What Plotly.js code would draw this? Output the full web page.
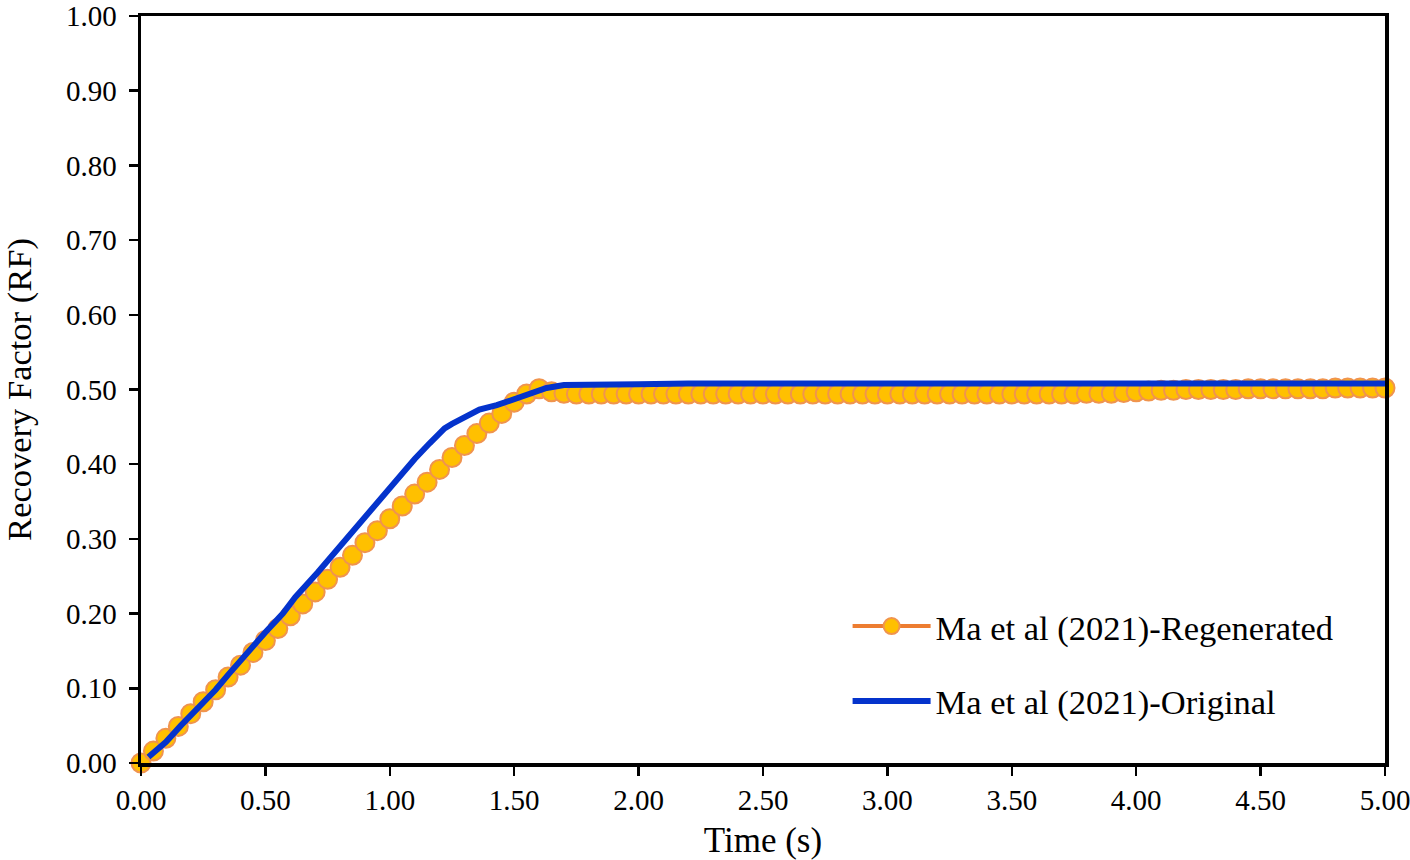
<!DOCTYPE html>
<html>
<head>
<meta charset="utf-8">
<script src="https://cdn.plot.ly/plotly-3.0.1.min.js"></script>
<style>html,body{margin:0;padding:0;background:#fff;}#chart{width:1410px;height:860px;}</style>
</head>
<body>
<div id="chart"></div>
<script>
// Regenerated series (every 0.05 s)
const regenTime = [
  0.00,0.05,0.10,0.15,0.20,0.25,0.30,0.35,0.40,0.45,
  0.50,0.55,0.60,0.65,0.70,0.75,0.80,0.85,0.90,0.95,
  1.00,1.05,1.10,1.15,1.20,1.25,1.30,1.35,1.40,1.45,
  1.50,1.55,1.60,1.65,1.70,1.75,1.80,1.85,1.90,1.95,
  2.00,2.05,2.10,2.15,2.20,2.25,2.30,2.35,2.40,2.45,
  2.50,2.55,2.60,2.65,2.70,2.75,2.80,2.85,2.90,2.95,
  3.00,3.05,3.10,3.15,3.20,3.25,3.30,3.35,3.40,3.45,
  3.50,3.55,3.60,3.65,3.70,3.75,3.80,3.85,3.90,3.95,
  4.00,4.05,4.10,4.15,4.20,4.25,4.30,4.35,4.40,4.45,
  4.50,4.55,4.60,4.65,4.70,4.75,4.80,4.85,4.90,4.95,
  5.00
];
const regenRF = [
  0.000,0.016,0.033,0.049,0.066,0.082,0.098,0.115,0.131,0.148,
  0.164,0.180,0.197,0.213,0.229,0.246,0.262,0.278,0.295,0.311,
  0.327,0.344,0.360,0.376,0.393,0.409,0.425,0.441,0.455,0.468,
  0.483,0.494,0.501,0.497,0.495,0.494,0.494,0.494,0.494,0.494,
  0.494,0.494,0.494,0.494,0.494,0.494,0.494,0.494,0.494,0.494,
  0.494,0.494,0.494,0.494,0.494,0.494,0.494,0.494,0.494,0.494,
  0.494,0.494,0.494,0.494,0.494,0.494,0.494,0.494,0.494,0.494,
  0.494,0.494,0.494,0.494,0.494,0.494,0.495,0.495,0.495,0.496,
  0.497,0.498,0.499,0.499,0.500,0.500,0.500,0.500,0.500,0.501,
  0.501,0.501,0.501,0.501,0.501,0.501,0.502,0.502,0.502,0.502,
  0.502
];
const origTime = [0.03,0.10,0.16,0.25,0.30,0.35,0.40,0.45,0.50,0.57,0.62,0.71,0.78,0.84,0.90,0.97,1.03,1.10,1.16,1.22,1.25,1.30,1.36,1.43,1.50,1.56,1.63,1.70,1.80,2.00,2.20,3.00,4.00,5.00];
const origRF   = [0.008,0.028,0.050,0.080,0.098,0.118,0.138,0.158,0.175,0.200,0.222,0.255,0.282,0.307,0.330,0.358,0.381,0.407,0.428,0.448,0.454,0.463,0.473,0.479,0.487,0.494,0.502,0.506,0.507,0.507,0.508,0.508,0.508,0.508];

const xTicks = [0, 0.5, 1, 1.5, 2, 2.5, 3, 3.5, 4, 4.5, 5];
const xTickText = ['0.00','0.50','1.00','1.50','2.00','2.50','3.00','3.50','4.00','4.50','5.00'];
const yTicks = [0, 0.1, 0.2, 0.3, 0.4, 0.5, 0.6, 0.7, 0.8, 0.9, 1.0];
const yTickText = ['0.00','0.10','0.20','0.30','0.40','0.50','0.60','0.70','0.80','0.90','1.00'];

const xTitle = 'Time (s)';
const yTitle = 'Recovery Factor (RF)';
const seriesNames = ['Ma et al (2021)-Regenerated', 'Ma et al (2021)-Original'];

const FONT = 'Liberation Serif, Times New Roman, serif';

const traces = [
  {
    x: regenTime, y: regenRF, name: seriesNames[0], type: 'scatter', mode: 'lines+markers',
    legendgroup: 'a', cliponaxis: false,
    line: {color: 'rgb(237,125,49)', width: 4},
    marker: {size: 19, color: 'rgb(255,192,0)', line: {color: 'rgb(240,148,78)', width: 2}}
  },
  {
    x: origTime, y: origRF, name: seriesNames[1], type: 'scatter', mode: 'lines',
    legendgroup: 'b', cliponaxis: false,
    line: {color: 'rgb(4,51,204)', width: 6}
  }
];

const axisCommon = {
  showgrid: false, zeroline: false, showline: true, linecolor: '#000', linewidth: 3.5,
  mirror: true, ticks: 'outside', ticklen: 9, tickwidth: 2.5, tickcolor: '#000',
  tickmode: 'array', ticklabeloverflow: 'allow',
  tickfont: {family: FONT, size: 29, color: '#000'}
};

const layout = {
  width: 1410, height: 860,
  margin: {l: 141, r: 25, t: 16, b: 97},
  paper_bgcolor: '#fff', plot_bgcolor: '#fff',
  font: {family: FONT, color: '#000'},
  showlegend: true,
  legend: {
    x: 0.568, y: 0.222, xanchor: 'left', yanchor: 'top',
    font: {family: FONT, size: 34.5, color: '#000'},
    bgcolor: 'rgba(0,0,0,0)', itemwidth: 78,
    traceorder: 'grouped', tracegroupgap: 27
  },
  xaxis: Object.assign({}, axisCommon, {
    range: [0, 5], tickvals: xTicks, ticktext: xTickText,
    title: {text: xTitle, font: {family: FONT, size: 35, color: '#000'}, standoff: 15}
  }),
  yaxis: Object.assign({}, axisCommon, {
    range: [0, 1], tickvals: yTicks, ticktext: yTickText, ticklabelstandoff: 6,
    title: {text: yTitle, font: {family: FONT, size: 34.5, color: '#000'}, standoff: 30}
  })
};

Plotly.newPlot('chart', traces, layout, {displayModeBar: false, staticPlot: true});
</script>
</body>
</html>
